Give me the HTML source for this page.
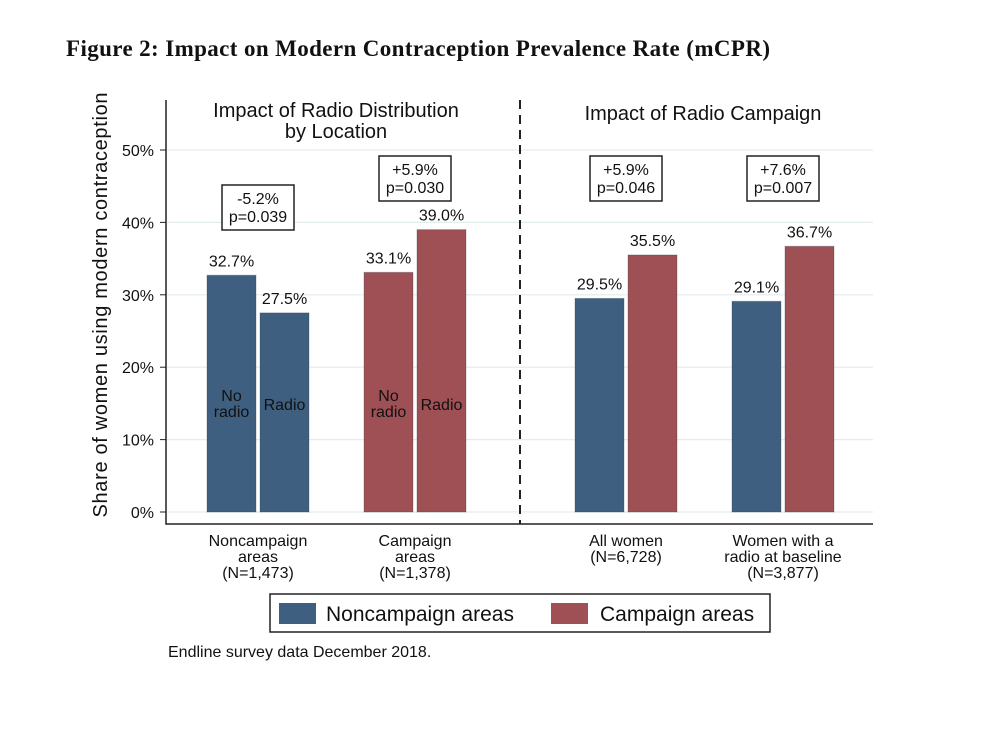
<!DOCTYPE html>
<html><head><meta charset="utf-8"><style>
body{margin:0;background:#fff;}
svg text{font-family:"Liberation Sans",Arial,sans-serif;fill:#111;}
</style></head><body>
<svg id="c" width="1008" height="729" xmlns="http://www.w3.org/2000/svg">
<text x="66" y="56" textLength="704" style="font-family:'Liberation Serif',serif;font-weight:bold;font-size:23px">Figure 2: Impact on Modern Contraception Prevalence Rate (mCPR)</text>
<g id="plot"></g>
</svg>
<script>
const categories=["Noncampaign areas","Campaign areas","All women","Women with a radio at baseline"];
const catLabels=[["Noncampaign","areas","(N=1,473)"],["Campaign","areas","(N=1,378)"],["All women","(N=6,728)"],["Women with a","radio at baseline","(N=3,877)"]];
const leftValues=[32.7,33.1,29.5,29.1];
const rightValues=[27.5,39.0,35.5,36.7];
const leftColors=["blue","red","blue","blue"];
const rightColors=["blue","red","red","red"];
const innerLabels=[["No radio","Radio"],["No radio","Radio"],null,null];
const effects=["-5.2%","+5.9%","+5.9%","+7.6%"];
const pvalues=["p=0.039","p=0.030","p=0.046","p=0.007"];
const yTicks=[0,10,20,30,40,50];
const colorMap={blue:"#3e5f80",red:"#9e5055"};
const NS="http://www.w3.org/2000/svg";
const g=document.getElementById('plot');
function y(v){return 512-v*7.24;}
const groupX=[207,364,575,732];
const boxY=[185,156,156,156];
const bw=49,gap=4;
function mk(t,a,txt){const e=document.createElementNS(NS,t);for(const k in a)e.setAttribute(k,a[k]);if(txt!==undefined)e.textContent=txt;g.appendChild(e);return e;}
yTicks.forEach(t=>{
 let l=mk('line',{x1:167,x2:873,y1:y(t),y2:y(t),stroke:'#e3ecee','stroke-width':1.2});
 
 
 let tk=mk('line',{x1:160,x2:166,y1:y(t),y2:y(t),stroke:'#222'});
 
 
 let tx=mk('text',{x:154,y:y(t)+6,'text-anchor':'end','font-size':16},t+'%');
 
 
});
let ax=mk('path',{d:'M166,100 V524 H873',fill:'none',stroke:'#222','stroke-width':1.5});


let dl=mk('line',{x1:520,x2:520,y1:100,y2:524,stroke:'#222','stroke-width':2,'stroke-dasharray':'9,6'});


let yt=mk('text',{x:0,y:0,transform:'translate(107,305) rotate(-90)','text-anchor':'middle','font-size':20,textLength:425},'Share of women using modern contraception');


[[336,117,'Impact of Radio Distribution'],[336,138,'by Location'],[703,120,'Impact of Radio Campaign']].forEach(a=>{
 let t=mk('text',{x:a[0],y:a[1],'text-anchor':'middle','font-size':20},a[2]);
 
 
});
categories.forEach((c,i)=>{
 const x0=groupX[i];
 [[leftValues[i],leftColors[i],x0,0],[rightValues[i],rightColors[i],x0+bw+gap,1]].forEach(b=>{
  const r=mk('rect',{x:b[2],y:y(b[0]),width:bw,height:y(0)-y(b[0]),fill:colorMap[b[1]],stroke:'#2e3e50','stroke-opacity':0.3});
  
  
  const vt=mk('text',{x:b[2]+bw/2,y:y(b[0])-9,'text-anchor':'middle','font-size':16},b[0].toFixed(1)+'%');
  
  
  if(innerLabels[i]){
   const lab=innerLabels[i][b[3]];
   const parts=lab.split(' ');
   parts.forEach((p,k)=>{
    const it=mk('text',{x:b[2]+bw/2,y:(parts.length>1?401:410)+k*16,'text-anchor':'middle','font-size':16},p);
    
    
   });
  }
 });
 const cx=x0+bw+gap/2;
 const by=boxY[i];
 const box=mk('rect',{x:cx-36,y:by,width:72,height:45,fill:'#fff',stroke:'#222','stroke-width':1.5});
 
 
 const e1=mk('text',{x:cx,y:by+19,'text-anchor':'middle','font-size':16},effects[i]);
 
 
 const e2=mk('text',{x:cx,y:by+37,'text-anchor':'middle','font-size':16},pvalues[i]);
 
 
 catLabels[i].forEach((s,k)=>{
  const t=mk('text',{x:cx,y:546+k*16,'text-anchor':'middle','font-size':16},s);
  
  
 });
});
const lg=mk('rect',{x:270,y:594,width:500,height:38,fill:'#fff',stroke:'#222','stroke-width':1.5});


[[279,'blue','Noncampaign areas',326],[551,'red','Campaign areas',600]].forEach(a=>{
 const s=mk('rect',{x:a[0],y:603,width:37,height:21,fill:colorMap[a[1]]});
 
 
 const t=mk('text',{x:a[3],y:621,'font-size':21},a[2]);
 
 
});
const n=mk('text',{x:168,y:657,'font-size':16},'Endline survey data December 2018.');


</script>
</body></html>
